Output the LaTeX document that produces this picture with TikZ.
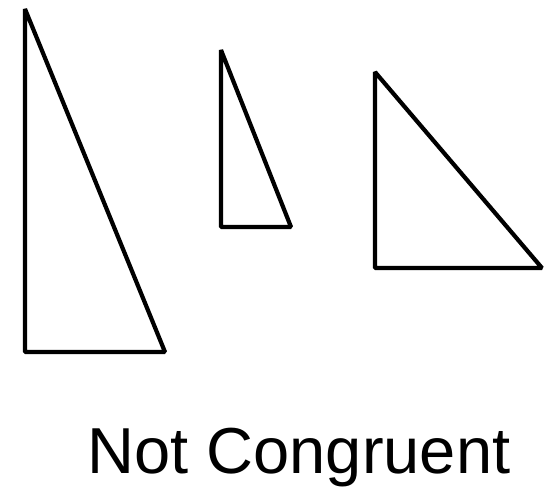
\documentclass[tikz,border=0pt]{standalone}
\usepackage{fontspec}
\setmainfont{Liberation Sans}
\begin{document}
\begin{tikzpicture}[x=1pt,y=-1pt,tri/.style={draw=black,line width=4.2pt,line join=bevel}]
\useasboundingbox (0,0) rectangle (546,488);
\coordinate (a1) at (25,9); \coordinate (b1) at (25,352); \coordinate (c1) at (165,352);
\coordinate (a2) at (221,50); \coordinate (b2) at (221,227); \coordinate (c2) at (291,227);
\coordinate (a3) at (375,72); \coordinate (b3) at (375,268); \coordinate (c3) at (542,268);
\draw[tri] (a1) -- (b1) -- (c1) -- cycle;
\draw[tri] (a2) -- (b2) -- (c2) -- cycle;
\draw[tri] (a3) -- (b3) -- (c3) -- cycle;
\node[font=\fontsize{65}{75}\selectfont, inner sep=0pt, anchor=base] (t) at (299,473) {Not Congruent};
\end{tikzpicture}
\end{document}
